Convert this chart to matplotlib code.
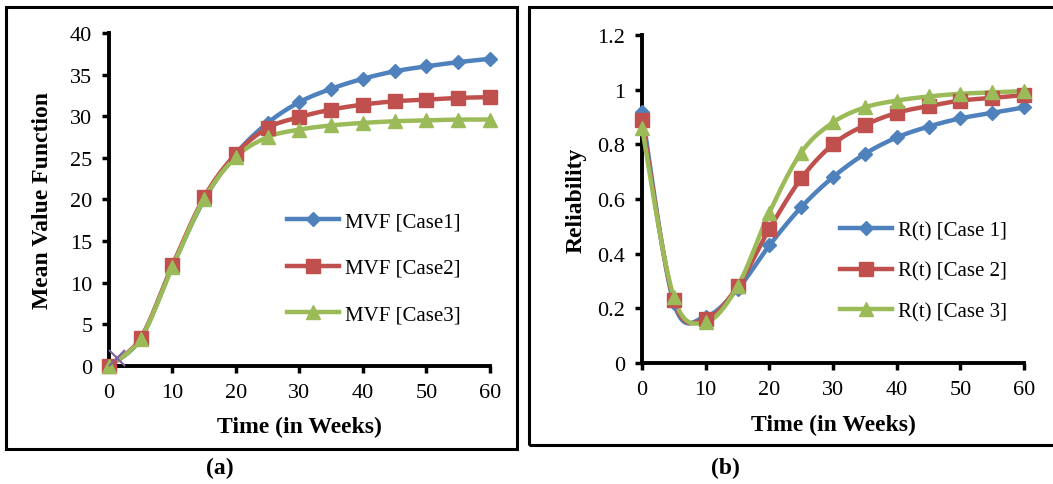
import numpy as np
import matplotlib
matplotlib.use('Agg')
from matplotlib import pyplot as plt
from matplotlib.patches import Rectangle

plt.rcParams['font.family'] = ['Liberation Serif', 'DejaVu Serif']

weeks = [0, 5, 10, 15, 20, 25, 30, 35, 40, 45, 50, 55, 60]

mvf_case1 = [0, 3.3, 12.0, 20.0, 25.5, 29.2, 31.7, 33.3, 34.5, 35.4, 36.0, 36.5, 36.9]
mvf_case2 = [0, 3.4, 12.1, 20.3, 25.5, 28.6, 29.9, 30.8, 31.4, 31.8, 32.0, 32.2, 32.3]
mvf_case3 = [0, 3.3, 11.9, 20.1, 25.1, 27.5, 28.4, 28.9, 29.2, 29.4, 29.5, 29.6, 29.6]
stray_x, stray_y = [1.3], [1.0]

rel_case1 = [0.92, 0.22, 0.17, 0.27, 0.43, 0.57, 0.68, 0.765, 0.825, 0.865, 0.895, 0.915, 0.935]
rel_case2 = [0.89, 0.23, 0.16, 0.28, 0.49, 0.675, 0.80, 0.87, 0.915, 0.94, 0.96, 0.97, 0.98]
rel_case3 = [0.86, 0.24, 0.15, 0.28, 0.55, 0.77, 0.88, 0.935, 0.96, 0.975, 0.985, 0.99, 0.995]

mvf_labels = ['MVF [Case1]', 'MVF [Case2]', 'MVF [Case3]']
rel_labels = ['R(t) [Case 1]', 'R(t) [Case 2]', 'R(t) [Case 3]']

colors = ['#4F81BD', '#C0504D', '#9BBB59']
markers = [('D', 7), ('s', 10), ('^', 10)]


def smooth(x, y, n=20):
    # excel-style smoothed line (catmull-rom through the points)
    x = np.asarray(x, float)
    y = np.asarray(y, float)
    px = np.concatenate([[x[0]], x, [x[-1]]])
    py = np.concatenate([[y[0]], y, [y[-1]]])
    xs, ys = [], []
    t = np.linspace(0, 1, n)
    for i in range(1, len(px) - 2):
        p0, p1, p2, p3 = [np.array([px[j], py[j]]) for j in (i - 1, i, i + 1, i + 2)]
        c1 = p1 + (p2 - p0) / 6
        c2 = p2 - (p3 - p1) / 6
        b = ((1 - t) ** 3)[:, None] * p1 + (3 * (1 - t) ** 2 * t)[:, None] * c1 \
            + (3 * (1 - t) * t ** 2)[:, None] * c2 + (t ** 3)[:, None] * p2
        xs.extend(b[:, 0])
        ys.extend(b[:, 1])
    return xs, ys


def style(ax):
    for s in ['top', 'right']:
        ax.spines[s].set_visible(False)
    for s in ['left', 'bottom']:
        ax.spines[s].set_linewidth(2.8)
        ax.spines[s].set_color('black')
    ax.tick_params(direction='out', length=5, width=2.5, labelsize=16, pad=7)
    ax.set_xlim(0, 60)
    ax.set_xticks(range(0, 61, 10))


fig = plt.figure(figsize=(10.53, 4.85), dpi=100)

ax1 = fig.add_axes([0.1035, 0.2433, 0.3618, 0.6866])
ax2 = fig.add_axes([0.6097, 0.2495, 0.3628, 0.6763])

for ax, series, labels in [(ax1, [mvf_case1, mvf_case2, mvf_case3], mvf_labels),
                           (ax2, [rel_case1, rel_case2, rel_case3], rel_labels)]:
    for vals, c, (m, ms), lab in zip(series, colors, markers, labels):
        sx, sy = smooth(weeks, vals)
        ax.plot(sx, sy, color=c, lw=3.2, clip_on=False, zorder=3)
        ax.plot(weeks, vals, ls='none', marker=m, ms=ms, color=c, clip_on=False, zorder=4)
        ax.plot([], [], color=c, lw=3.2, marker=m, ms=ms, label=lab)
    style(ax)

ax1.plot(stray_x, stray_y, ls='none', marker='x', ms=12, mew=1.5, color='#8064A2', clip_on=False, zorder=5)

ax1.set_ylim(0, 40)
ax1.set_yticks(range(0, 41, 5))
ax2.set_ylim(0, 1.2)
ax2.set_yticks([0, 0.2, 0.4, 0.6, 0.8, 1, 1.2])
ax2.set_yticklabels(['0', '0.2', '0.4', '0.6', '0.8', '1', '1.2'])

ax1.set_xlabel('Time (in Weeks)', fontsize=17, fontweight='bold')
ax1.set_ylabel('Mean Value Function', fontsize=17, fontweight='bold')
ax1.xaxis.set_label_coords(0.5, -0.15)
ax1.yaxis.set_label_coords(-0.147, 0.5)
ax2.set_xlabel('Time (in Weeks)', fontsize=17, fontweight='bold')
ax2.set_ylabel('Reliability', fontsize=17, fontweight='bold')
ax2.xaxis.set_label_coords(0.5, -0.155)
ax2.yaxis.set_label_coords(-0.144, 0.5)

ax1.legend(loc='upper left', bbox_to_anchor=(0.44, 0.495), frameon=False, fontsize=15,
           handlelength=2.5, handletextpad=0.3, labelspacing=1.3, borderpad=0)
ax2.legend(loc='upper left', bbox_to_anchor=(0.49, 0.465), frameon=False, fontsize=15,
           handlelength=2.5, handletextpad=0.3, labelspacing=1.0, borderpad=0)

fig.add_artist(Rectangle((0.0057, 0.0722), 0.4853, 0.911, transform=fig.transFigure,
                         fill=False, lw=2.2, ec='black'))
fig.add_artist(Rectangle((0.5025, 0.0804), 0.52, 0.903, transform=fig.transFigure,
                         fill=False, lw=2.2, ec='black'))

fig.text(0.209, 0.035, '(a)', fontsize=17, fontweight='bold', ha='center', va='center')
fig.text(0.6885, 0.035, '(b)', fontsize=17, fontweight='bold', ha='center', va='center')

fig.savefig('out.png', dpi=100)
